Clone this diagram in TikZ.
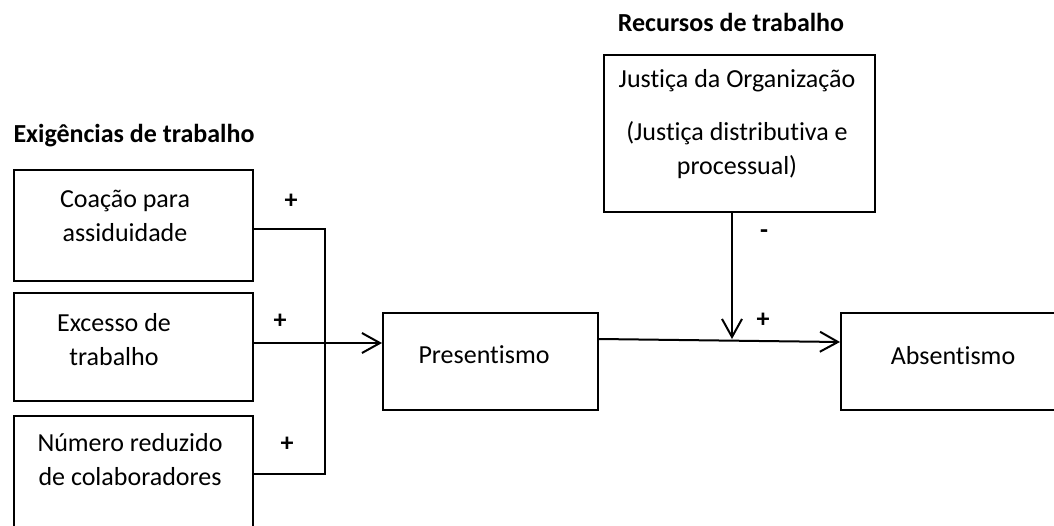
\documentclass[tikz,border=0pt]{standalone}
\usepackage{fontspec}
\setmainfont{Carlito}[Ligatures={NoCommon}]
\usetikzlibrary{arrows.meta}
\begin{document}
\begin{tikzpicture}[x=0.5pt,y=-0.5pt,
	every node/.style={font=\fontsize{13}{17}\selectfont},
	box/.style={draw,line width=1pt,inner sep=0pt},
	txt/.style={inner sep=0pt,align=center},
	head/.style={inner sep=0pt,font=\fontsize{13}{17}\selectfont\bfseries},
	link/.style={line width=1pt},
	arr/.style={line width=1pt,-{Straight Barb[length=9pt,width=10pt,line width=1pt]}}]
	\useasboundingbox (0,0) rectangle (1054,525);
	\clip (0,0) rectangle (1054,525);
	% titles
	\node[head] (exig) at (134,136) {Exigências de trabalho};
	\node[head] (recur) at (731,22) {Recursos de trabalho};
	% boxes
	\node[box,minimum width=119.5pt,minimum height=55.5pt] (coacao) at (133.5,225.5) {};
	\node[box,minimum width=119.5pt,minimum height=54pt] (excesso) at (133.5,347) {};
	\node[box,minimum width=119.5pt,minimum height=57pt] (numero) at (133.5,473) {};
	\node[box,minimum width=107.5pt,minimum height=48.5pt] (presentismo) at (490.5,361.5) {};
	\node[box,minimum width=108.5pt,minimum height=48.5pt] (absentismo) at (949.5,361.5) {};
	\node[box,minimum width=135.5pt,minimum height=78.5pt] (justica) at (739.5,133.5) {};
	% texts
	\node[txt] (coacaotxt) at (125,216) {Coação para\\assiduidade};
	\node[txt] (excessotxt) at (114,340) {Excesso de\\trabalho};
	\node[txt] (numerotxt) at (130,460) {Número reduzido\\de colaboradores};
	\node[txt] (presentismotxt) at (484,355) {Presentismo};
	\node[txt] (absentismotxt) at (953,356) {Absentismo};
	\node[txt] (justicatxt) at (737,124) {Justiça da Organização\\[9.5pt](Justiça distributiva e\\processual)};
	% signs
	\node[head] (p1) at (291,201) {+};
	\node[head] (p2) at (280,321) {+};
	\node[head] (p3) at (287,444) {+};
	\node[head] (m1) at (764,234) {-};
	\node[head] (p4) at (763,320) {+};
	% connectors
	\coordinate (bustop) at (325,229);
	\coordinate (busbot) at (325,474);
	\coordinate (feed) at (325,343);
	\coordinate (mod) at (732,339);
	\draw[link] (coacao.east |- bustop) -- (bustop) -- (busbot) -- (numero.east |- busbot);
	\draw[arr] (excesso.east |- feed) -- (presentismo.west |- feed);
	\draw[arr] ([yshift=11.25pt]presentismo.east) -- ([yshift=9.75pt]absentismo.west);
	\draw[arr] (justica.south -| mod) -- (mod);
\end{tikzpicture}
\end{document}
